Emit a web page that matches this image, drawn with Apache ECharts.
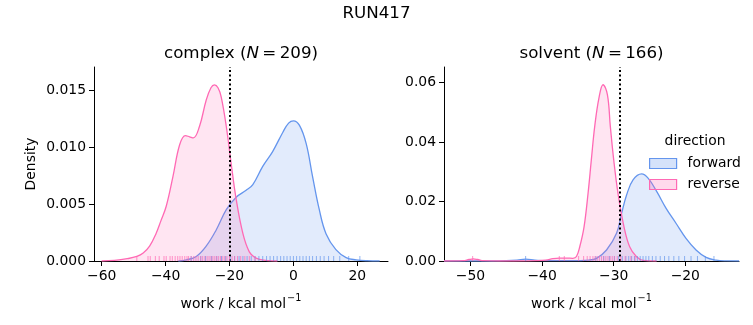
<!DOCTYPE html>
<html><head><meta charset="utf-8">
<script src="https://cdn.jsdelivr.net/npm/echarts@6/dist/echarts.min.js"></script>
<style>html,body{margin:0;padding:0;background:#fff}#c{width:753px;height:325px}</style>
</head><body><div id="c"></div>
<script>
// ---- data ----
const complexForwardX = [-36, -33.5, -30.4, -27.3, -24.2, -21, -17.9, -14.8, -12.7, -9.6, -6.5, -3.3, -1.5, 0, 1.9, 4, 6, 8.1, 10.2, 13.3, 16.5, 19.6, 23, 27];
const complexForwardY = [0, 0.0001, 0.0004, 0.0013, 0.0027, 0.0045, 0.0056, 0.0062, 0.0067, 0.0083, 0.0096, 0.0113, 0.0121, 0.0123, 0.0119, 0.0103, 0.0074, 0.0045, 0.0024, 0.001, 0.0003, 0.0001, 0.00002, 0];
const complexReverseX = [-60, -56, -52, -49, -47, -45, -43, -41.5, -39.8, -37.7, -35.6, -33.8, -32.5, -31.3, -29.4, -27.3, -25.8, -24.7, -23.6, -22.6, -21, -19.5, -17.9, -15.8, -13.8, -12, -10.6, -8, -5];
const complexReverseY = [0, 0.00005, 0.0002, 0.0004, 0.0007, 0.0013, 0.0024, 0.0035, 0.0048, 0.0074, 0.0102, 0.011, 0.0109, 0.0108, 0.0118, 0.0141, 0.0152, 0.01545, 0.0152, 0.0144, 0.0118, 0.0086, 0.0054, 0.0024, 0.0008, 0.0003, 0.00015, 0.00003, 0];
const solventForwardX = [-53.7, -47, -45, -43.5, -42.3, -41, -39.4, -36, -33.5, -32.4, -31, -29.6, -28.9, -28.2, -27.3, -26.1, -25.2, -24, -22.7, -21.3, -19.9, -18.5, -17.1, -15.7, -14.3, -12.5];
const solventForwardY = [0, 0, 0.0001, 0.0003, 0.0006, 0.0003, 0.0001, 0.0001, 0.0003, 0.0009, 0.0037, 0.0093, 0.016, 0.0222, 0.0273, 0.0293, 0.0279, 0.0234, 0.0178, 0.0127, 0.0076, 0.0037, 0.0012, 0.0003, 0.00005, 0];
const solventReverseX = [-53.7, -51, -50.2, -49.6, -49, -48.2, -46, -42, -39.5, -38.5, -37.6, -36.6, -35.7, -35.2, -34.74, -34.14, -33.58, -33.12, -32.65, -32.05, -31.49, -30.88, -30.47, -30, -29.4, -28.56, -27.77, -26.84, -25.9, -24];
const solventReverseY = [0, 0.0001, 0.0005, 0.0007, 0.0005, 0.0001, 0, 0.00005, 0.0003, 0.0008, 0.001, 0.001, 0.0009, 0.0015, 0.0048, 0.0115, 0.0228, 0.0341, 0.0453, 0.055, 0.0593, 0.056, 0.0453, 0.0341, 0.0228, 0.0115, 0.0048, 0.0015, 0.0002, 0];
const complexForwardRug = [-32, -29, -27.5, -25.6, -24, -22.5, -21.2, -19.8, -18.4, -17, -15.8, -14.5, -13.2, -12, -10.8, -9.6, -8.4, -7.3, -6.2, -5.1, -4, -3, -2, -1, 0, 1, 2, 3, 4, 5, 6, 7.2, 8.4, 9.6, 11, 12.6, 14.5, 17.3, 20.8];
const complexReverseRug = [-49, -45.5, -44.8, -43.2, -42, -40.5, -39.8, -38.6, -37.9, -37, -36.2, -35.5, -34.8, -34, -33.3, -32.8, -32, -31.2, -30.5, -29.8, -29, -28.4, -27.7, -27, -26.4, -25.8, -25.2, -24.6, -24, -23.4, -22.8, -22.1, -21.5, -20.8, -20, -19.2, -18.4, -17.5, -16.5, -15.2, -13.8, -12];
const solventForwardRug = [-42.3, -32.5, -31.4, -30.6, -29.9, -29.3, -28.8, -28.3, -27.9, -27.5, -27.1, -26.7, -26.3, -25.9, -25.5, -25.1, -24.6, -24.1, -23.5, -22.9, -22.3, -21.6, -20.9, -20.1, -19.2, -18.3, -17.2, -16];
const solventReverseRug = [-49.7, -37.6, -36.9, -34.9, -34.2, -33.7, -33.3, -32.9, -32.6, -32.3, -32, -31.7, -31.4, -31.1, -30.8, -30.5, -30.2, -29.9, -29.5, -29, -28.4, -27.6, -27];
const complexXTicks = [-60, -40, -20, 0, 20];
const solventXTicks = [-50, -40, -30, -20];
const complexYTicks = [0, 0.005, 0.010, 0.015];
const solventYTicks = [0, 0.02, 0.04, 0.06];
const complexThreshold = -20;
const solventThreshold = -29.1;
const complexN = 209, solventN = 166;
const suptitle = 'RUN417';

// ---- styling ----
const FONT = 'DejaVu Sans';
const BLUE = '#6495ED', PINK = '#FF69B4';
const BLUE_FILL = 'rgba(100,149,237,0.27)', PINK_FILL = 'rgba(255,105,180,0.25)';
const zip = (xs, ys) => xs.map((x, i) => [x, ys[i]]);
const minus = v => (v < 0 ? '\u2212' + Math.abs(v) : String(v));

function xAxis(gi, min, max, ticks) {
  return {
    type: 'value', gridIndex: gi, min, max,
    axisLine: { show: true, onZero: false, lineStyle: { color: '#000', width: 1 } },
    axisTick: { show: true, length: 5, customValues: ticks, lineStyle: { color: '#000' } },
    axisLabel: { customValues: ticks, formatter: minus, color: '#000', fontFamily: FONT, fontSize: 13.9, margin: 8 },
    splitLine: { show: false },
    name: '{a|work / kcal mol}{s|\u22121}',
    nameLocation: 'middle', nameGap: 32,
    nameTextStyle: { rich: {
      a: { fontFamily: FONT, fontSize: 13.9, color: '#000', lineHeight: 18, verticalAlign: 'bottom' },
      s: { fontFamily: FONT, fontSize: 9.7, color: '#000', lineHeight: 18, verticalAlign: 'top', padding: [0, 0, 0, 1] }
    } }
  };
}
function yAxis(gi, max, ticks, dec, name) {
  return {
    type: 'value', gridIndex: gi, min: 0, max,
    axisLine: { show: true, onZero: false, lineStyle: { color: '#000', width: 1 } },
    axisTick: { show: true, length: 5, customValues: ticks, lineStyle: { color: '#000' } },
    axisLabel: { customValues: ticks, formatter: v => v.toFixed(dec), color: '#000', fontFamily: FONT, fontSize: 13.9, margin: 8 },
    splitLine: { show: false },
    name: name || '', nameLocation: 'middle', nameGap: 56,
    nameTextStyle: { fontFamily: FONT, fontSize: 13.9, color: '#000' }
  };
}
function kde(name, gi, xs, ys, color, fill, z) {
  return {
    type: 'line', name, xAxisIndex: gi, yAxisIndex: gi, data: zip(xs, ys),
    smooth: 0.4, showSymbol: false, symbol: 'none', z,
    lineStyle: { color, width: 1.3 }, itemStyle: { color }, areaStyle: { color: fill, origin: 'start' },
    silent: true
  };
}
function rug(name, gi, vals, color) {
  return {
    type: 'scatter', name, xAxisIndex: gi, yAxisIndex: gi, data: vals.map(v => [v, 0]),
    symbol: 'rect', symbolSize: [1, 5], symbolOffset: [0, -2.5], z: 5,
    itemStyle: { color, opacity: 0.7 }, silent: true
  };
}
function vline(gi, x) {
  return {
    type: 'line', xAxisIndex: gi, yAxisIndex: gi, data: [], z: 6, silent: true,
    markLine: { silent: true, symbol: 'none', label: { show: false },
      lineStyle: { color: '#000', width: 2, type: [2, 2.5] }, data: [{ xAxis: x }] }
  };
}
const titleRich = {
  n: { fontFamily: FONT, fontSize: 16.7, fill: '#000' },
  i: { fontFamily: FONT, fontStyle: 'italic', fontSize: 16.7, fill: '#000' }
};

const chart = echarts.init(document.getElementById('c'), null, { renderer: 'canvas' });
chart.setOption({
  animation: false,
  backgroundColor: '#fff',
  textStyle: { fontFamily: FONT },
  grid: [
    { left: 94, top: 67, width: 294, height: 194 },
    { left: 444, top: 67, width: 295, height: 194 }
  ],
  xAxis: [xAxis(0, -62.4, 29.6, complexXTicks), xAxis(1, -53.7, -12.5, solventXTicks)],
  yAxis: [yAxis(0, 0.01702, complexYTicks, 3, 'Density'), yAxis(1, 0.06527, solventYTicks, 2)],
  legend: {
    orient: 'vertical', left: 649, top: 155, padding: 0, itemWidth: 27, itemHeight: 10, itemGap: 4,
    textStyle: { fontFamily: FONT, fontSize: 13.9, color: '#000', lineHeight: 17, padding: [0, 0, 0, 6] },
    data: [
      { name: 'forward', icon: 'rect', itemStyle: { color: BLUE_FILL, borderColor: BLUE, borderWidth: 1.2 } },
      { name: 'reverse', icon: 'rect', itemStyle: { color: PINK_FILL, borderColor: PINK, borderWidth: 1.2 } }
    ],
    selectedMode: false
  },
  graphic: [
    { type: 'text', left: 'center', top: 5, style: { text: suptitle, font: '16.7px "DejaVu Sans"', fill: '#000' } },
    { type: 'text', x: 241, y: 54, style: { text: '{n|complex (}{i|N}{n|\u2009=\u2009' + complexN + ')}', align: 'center', verticalAlign: 'middle', rich: titleRich } },
    { type: 'text', x: 591.5, y: 54, style: { text: '{n|solvent (}{i|N}{n|\u2009=\u2009' + solventN + ')}', align: 'center', verticalAlign: 'middle', rich: titleRich } },
    { type: 'text', x: 695, y: 141, style: { text: 'direction', align: 'center', verticalAlign: 'middle', font: '13.9px "DejaVu Sans"', fill: '#000' } }
  ],
  series: [
    kde('forward', 0, complexForwardX, complexForwardY, BLUE, BLUE_FILL, 2),
    kde('reverse', 0, complexReverseX, complexReverseY, PINK, PINK_FILL, 3),
    rug('forward', 0, complexForwardRug, BLUE),
    rug('reverse', 0, complexReverseRug, PINK),
    vline(0, complexThreshold),
    kde('forward', 1, solventForwardX, solventForwardY, BLUE, BLUE_FILL, 2),
    kde('reverse', 1, solventReverseX, solventReverseY, PINK, PINK_FILL, 3),
    rug('forward', 1, solventForwardRug, BLUE),
    rug('reverse', 1, solventReverseRug, PINK),
    vline(1, solventThreshold)
  ]
});
</script>
</body></html>
